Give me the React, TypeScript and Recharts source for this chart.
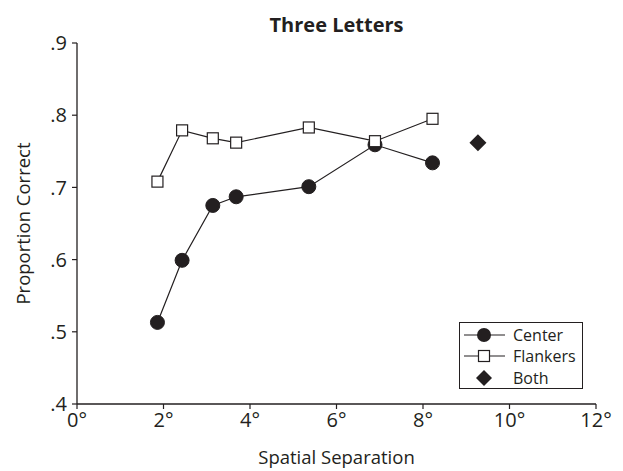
import React from 'react';
import { ComposedChart, Scatter, XAxis, YAxis, Legend, Label } from 'recharts';

const separations = [1.86, 2.43, 3.14, 3.68, 5.36, 6.89, 8.22];
const centerValues = [0.513, 0.599, 0.675, 0.687, 0.701, 0.759, 0.734];
const flankerValues = [0.708, 0.779, 0.768, 0.762, 0.783, 0.764, 0.795];
const bothSeparation = [9.27];
const bothValues = [0.762];

const xTicks = [0, 2, 4, 6, 8, 10, 12];
const xTickLabels = ['0°', '2°', '4°', '6°', '8°', '10°', '12°'];
const yTicks = [0.4, 0.5, 0.6, 0.7, 0.8, 0.9];
const yTickLabels = ['.4', '.5', '.6', '.7', '.8', '.9'];

const centerData = separations.map((x, i) => ({ x, y: centerValues[i] }));
const flankerData = separations.map((x, i) => ({ x, y: flankerValues[i] }));
const bothData = bothSeparation.map((x, i) => ({ x, y: bothValues[i] }));

const INK = '#231f20';
const FONT = '"Open Sans", "Noto Sans", sans-serif';

const CircleShape = (p: any) => <circle cx={p.cx} cy={p.cy} r={7} fill={INK} stroke={INK} strokeWidth={1} />;
const SquareShape = (p: any) => (
  <rect x={p.cx - 5.5} y={p.cy - 5.5} width={11} height={11} fill="#fff" stroke={INK} strokeWidth={1.2} />
);
const DiamondShape = (p: any) => (
  <path d={`M${p.cx},${p.cy - 8.5} L${p.cx + 8.5},${p.cy} L${p.cx},${p.cy + 8.5} L${p.cx - 8.5},${p.cy} Z`} fill={INK} />
);

const XTick = (props: any) => {
  const { x, y, payload } = props;
  return (
    <text x={x} y={y + 16} textAnchor="middle" fontFamily={FONT} fontSize={20} fill={INK}>
      {xTickLabels[xTicks.indexOf(payload.value)]}
    </text>
  );
};

const legendItems = [
  { name: 'Center', kind: 'circle' },
  { name: 'Flankers', kind: 'square' },
  { name: 'Both', kind: 'diamond' },
];

const LegendContent = () => (
  <div
    style={{
      border: `1.3px solid ${INK}`,
      width: 124,
      height: 67,
      boxSizing: 'border-box',
      padding: '1px 0 0 3px',
      background: '#fff',
      fontFamily: FONT,
      fontSize: 16,
      color: INK,
    }}
  >
    {legendItems.map((it) => (
      <div key={it.name} style={{ display: 'flex', alignItems: 'center', height: 21.5 }}>
        <svg width={44} height={20} style={{ display: 'block', flex: 'none' }}>
          {it.kind !== 'diamond' && <line x1={1} y1={10} x2={42} y2={10} stroke={INK} strokeWidth={1.2} />}
          {it.kind === 'circle' && <circle cx={21} cy={10} r={7} fill={INK} />}
          {it.kind === 'square' && <rect x={15.5} y={4.5} width={11} height={11} fill="#fff" stroke={INK} strokeWidth={1.2} />}
          {it.kind === 'diamond' && <path d="M21,2 L29,10 L21,18 L13,10 Z" fill={INK} />}
        </svg>
        <span style={{ marginLeft: 6, lineHeight: '20px', whiteSpace: 'nowrap' }}>{it.name}</span>
      </div>
    ))}
  </div>
);

export default function App() {
  return (
    <div style={{ width: 623, height: 471 }}>
      <style>{`body{margin:0}`}</style>
      <ComposedChart width={623} height={471} margin={{ top: 43, right: 27, bottom: 0, left: 0 }}>
        <text x={336.5} y={32} textAnchor="middle" fontFamily={FONT} fontWeight={700} fontSize={20} fill={INK}>
          Three Letters
        </text>
        <XAxis
          xAxisId="b"
          type="number"
          dataKey="x"
          domain={[0, 12]}
          ticks={xTicks}
          height={67}
          tickSize={5}
          axisLine={{ stroke: INK, strokeWidth: 1.3 }}
          tickLine={{ stroke: INK, strokeWidth: 1.2 }}
          tick={<XTick />}
          allowDataOverflow
        >
          <Label
            content={(props: any) => {
              const vb = props.viewBox;
              return (
                <text x={vb.x + vb.width / 2} y={vb.y + vb.height - 7} textAnchor="middle" fontFamily={FONT} fontSize={18.5} fill={INK}>
                  Spatial Separation
                </text>
              );
            }}
          />
        </XAxis>
        <XAxis xAxisId="t" orientation="top" type="number" domain={[0, 12]} height={0} tick={false} tickLine={false} axisLine={{ stroke: INK, strokeWidth: 1.3 }} />
        <YAxis
          yAxisId="l"
          type="number"
          domain={[0.4, 0.9]}
          ticks={yTicks}
          tickFormatter={(v: number) => yTickLabels[yTicks.findIndex((t) => Math.abs(t - v) < 1e-9)]}
          width={77}
          tickSize={5}
          tickMargin={5}
          fontSize={20}
          fontFamily={FONT}
          axisLine={{ stroke: INK, strokeWidth: 1.3 }}
          tickLine={{ stroke: INK, strokeWidth: 1.2 }}
          tick={{ fill: INK, fontFamily: FONT, fontSize: 20 }}
          allowDataOverflow
        >
          <Label
            content={(props: any) => {
              const vb = props.viewBox;
              const cy = vb.y + vb.height / 2;
              return (
                <text x={22} y={cy} transform={`rotate(-90 22 ${cy})`} textAnchor="middle" dominantBaseline="central" fontFamily={FONT} fontSize={18.5} fill={INK}>
                  Proportion Correct
                </text>
              );
            }}
          />
        </YAxis>
        <YAxis yAxisId="r" orientation="right" type="number" domain={[0.4, 0.9]} width={0} tick={false} tickLine={false} axisLine={{ stroke: INK, strokeWidth: 1.3 }} />
        <Scatter
          name="Center"
          xAxisId="b"
          yAxisId="l"
          data={centerData}
          dataKey="y"
          line={{ stroke: INK, strokeWidth: 1.2 }}
          shape={CircleShape}
          isAnimationActive={false}
        />
        <Scatter
          name="Flankers"
          xAxisId="b"
          yAxisId="l"
          data={flankerData}
          dataKey="y"
          line={{ stroke: INK, strokeWidth: 1.2 }}
          shape={SquareShape}
          isAnimationActive={false}
        />
        <Scatter name="Both" xAxisId="b" yAxisId="l" data={bothData} dataKey="y" shape={DiamondShape} isAnimationActive={false} />
        <Legend
          layout="horizontal"
          verticalAlign="middle"
          align="center"
          content={LegendContent}
          wrapperStyle={{ position: 'absolute', left: 459, top: 322, width: 124, height: 67 }}
        />
      </ComposedChart>
    </div>
  );
}
